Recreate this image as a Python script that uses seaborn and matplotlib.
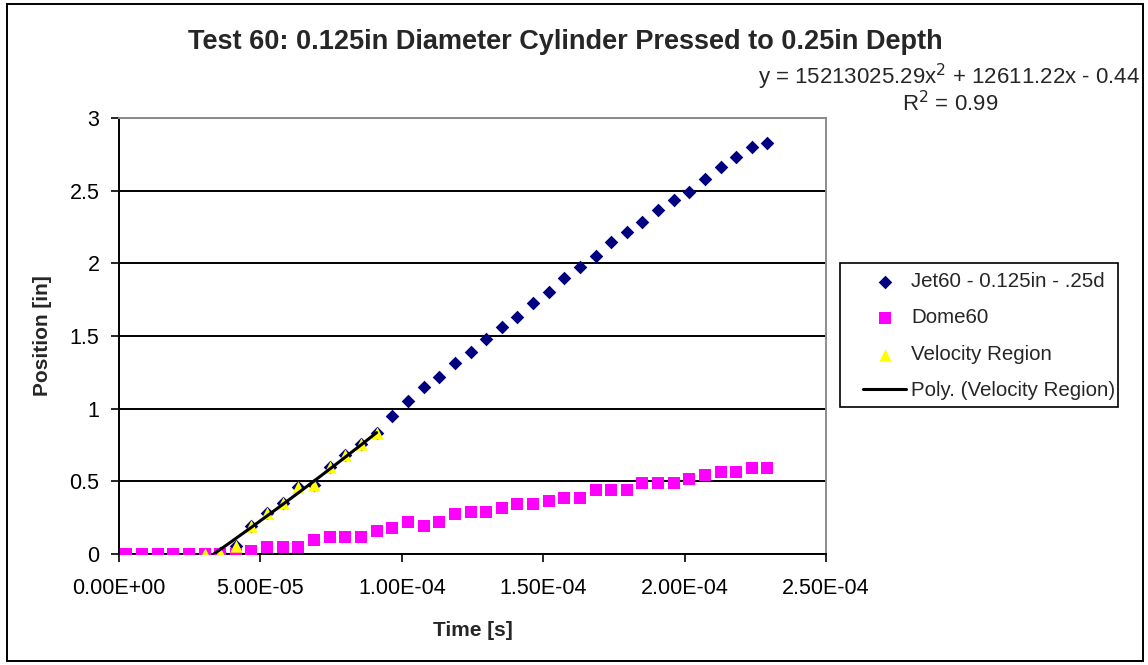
import numpy as np
import pandas as pd
import matplotlib
matplotlib.use("Agg")
import matplotlib.pyplot as plt
from matplotlib.ticker import FuncFormatter, MultipleLocator
from matplotlib.patches import Rectangle
import seaborn as sns

# Frame times in microseconds
time_us = [2.6, 8.1, 13.7, 19.2, 24.7, 30.3, 35.8, 41.3, 46.8, 52.4,
           57.9, 63.4, 69.0, 74.5, 80.0, 85.6, 91.1, 96.6, 102.1, 107.7,
           113.2, 118.7, 124.3, 129.8, 135.3, 140.9, 146.4, 151.9, 157.4, 163.0,
           168.5, 174.0, 179.6, 185.1, 190.6, 196.2, 201.7, 207.2, 212.7, 218.3,
           223.8, 229.3]

# Jet tip position [in]
jet_pos = [0, 0, 0, 0, 0, 0, 0.01, 0.057, 0.19, 0.285,
           0.353, 0.459, 0.475, 0.60, 0.68, 0.755, 0.835, 0.948, 1.05, 1.148,
           1.221, 1.315, 1.388, 1.479, 1.564, 1.632, 1.730, 1.805, 1.897, 1.975,
           2.05, 2.148, 2.217, 2.285, 2.37, 2.438, 2.488, 2.582, 2.66, 2.735,
           2.803, 2.826]

# Dome position [in]
dome_pos = [0, 0, 0, 0, 0, 0, 0, 0, 0.023, 0.045,
            0.045, 0.045, 0.093, 0.116, 0.116, 0.116, 0.155, 0.18, 0.223, 0.196,
            0.223, 0.274, 0.292, 0.292, 0.319, 0.345, 0.345, 0.365, 0.388, 0.388,
            0.44, 0.44, 0.44, 0.49, 0.49, 0.49, 0.516, 0.541, 0.566, 0.566,
            0.589, 0.589]

# Frames used for the velocity fit
velocity_idx = list(range(5, 17))

# Quadratic trendline of the velocity region: y = a*x^2 + b*x + c
poly_coef = [15213025.29, 12611.22, -0.44]
r_squared = 0.99

jet_label = "Jet60 - 0.125in - .25d"
dome_label = "Dome60"
vel_label = "Velocity Region"
poly_label = "Poly. (Velocity Region)"

t = np.array(time_us) * 1e-6
df = pd.DataFrame({"time": t, "jet": jet_pos, "dome": dome_pos})
vel = df.iloc[velocity_idx]
t_fit = np.linspace(vel["time"].min(), vel["time"].max(), 200)
fit = pd.DataFrame({"time": t_fit, "pos": np.polyval(poly_coef, t_fit)})

sns.set_style("ticks")
plt.rcParams["font.family"] = ["Liberation Sans", "DejaVu Sans"]

W, H = 1148, 665
fig = plt.figure(figsize=(W / 100, H / 100), dpi=100)
fig.patch.set_facecolor("white")
ax = fig.add_axes([119 / W, 1 - 554 / H, (826 - 119) / W, (554 - 118) / H])

sns.scatterplot(data=df, x="time", y="jet", marker="D", s=48, color="#000080",
                linewidth=0, ax=ax, label=jet_label, zorder=3)
sns.scatterplot(data=df, x="time", y="dome", marker="s", s=70, color="#FF00FF",
                linewidth=0, ax=ax, label=dome_label, zorder=4)
sns.scatterplot(data=vel, x="time", y="jet", marker="^", s=80, color="#FFFF00",
                linewidth=0, ax=ax, label=vel_label, zorder=5)
sns.lineplot(data=fit, x="time", y="pos", color="black", linewidth=2.2,
             ax=ax, label=poly_label, zorder=6)

ax.set_xlim(0, 2.5e-4)
ax.set_ylim(0, 3)
ax.xaxis.set_major_locator(MultipleLocator(5e-5))
ax.yaxis.set_major_locator(MultipleLocator(0.5))
ax.xaxis.set_major_formatter(FuncFormatter(lambda v, p: f"{v:.2E}"))
ax.yaxis.set_major_formatter(FuncFormatter(lambda v, p: f"{v:g}"))
ax.tick_params(axis="both", direction="out", length=6, width=1.2,
               labelsize=15.5, colors="black", pad=8)
ax.tick_params(axis="x", pad=11)

ax.yaxis.grid(True, color="black", linewidth=1.4)
ax.xaxis.grid(False)
ax.set_axisbelow(True)
for side in ("top", "right"):
    ax.spines[side].set_visible(True)
    ax.spines[side].set_color("#8c8c8c")
    ax.spines[side].set_linewidth(1.4)
for side in ("left", "bottom"):
    ax.spines[side].set_color("black")
    ax.spines[side].set_linewidth(1.4)

ax.set_xlabel("Time [s]", fontsize=15, fontweight="bold", labelpad=16)
ax.set_ylabel("Position [in]", fontsize=15, fontweight="bold", labelpad=13)

fig.text(565 / W, 1 - 42 / H,
         "Test 60: 0.125in Diameter Cylinder Pressed to 0.25in Depth",
         ha="center", va="center", fontsize=19.5, fontweight="bold")

a, b, c = poly_coef
sign = "-" if c < 0 else "+"
fig.text(1140 / W, 1 - 77 / H,
         f"y = {a:.2f}x$^2$ + {b:.2f}x {sign} {abs(c):.2f}",
         ha="right", va="center", fontsize=16)
fig.text(950 / W, 1 - 104 / H, f"R$^2$ = {r_squared:.2f}",
         ha="center", va="center", fontsize=16)

handles, labels = ax.get_legend_handles_labels()
order = [labels.index(l) for l in (jet_label, dome_label, vel_label, poly_label)]
leg = ax.legend([handles[i] for i in order], [labels[i] for i in order],
                loc="upper left", bbox_to_anchor=(863 / W, 1 - 272 / H),
                bbox_transform=fig.transFigure, borderaxespad=0, borderpad=0,
                fontsize=14.8, frameon=False, handlelength=2.1,
                handletextpad=0.25, labelspacing=0.85)

# Legend box
fig.patches.append(Rectangle((840 / W, 1 - 407 / H), (1118 - 840) / W, (407 - 263) / H,
                             transform=fig.transFigure, fill=False,
                             edgecolor="black", linewidth=1.2))

# Chart-area border
fig.patches.append(Rectangle((7 / W, 4 / H), (1143 - 7) / W, (661 - 4) / H,
                             transform=fig.transFigure, fill=False,
                             edgecolor="black", linewidth=1.4))

fig.savefig("out.png", dpi=100)
